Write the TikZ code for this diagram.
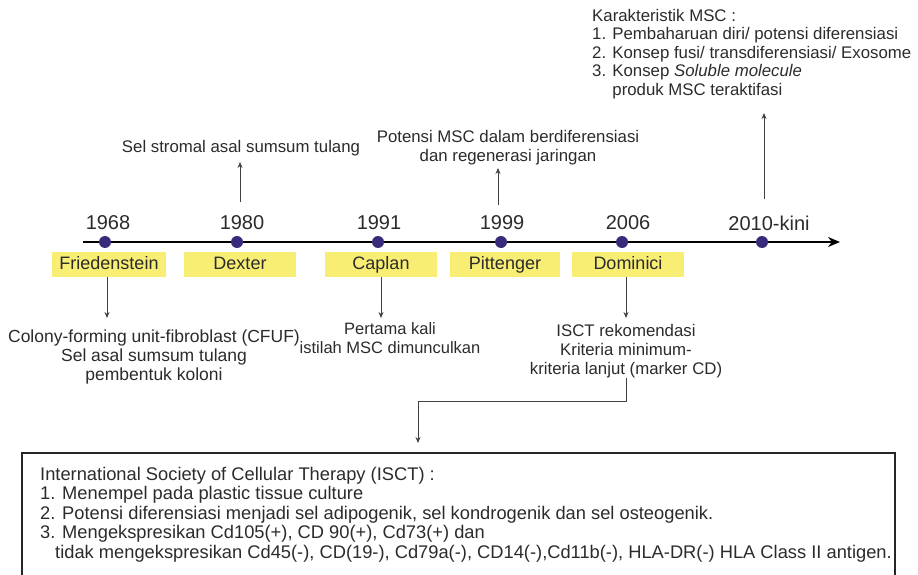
\documentclass[tikz,border=0pt]{standalone}
\usepackage{fontspec}
\setmainfont{Liberation Sans}
\usepackage{tikz}
\usetikzlibrary{arrows.meta, positioning, calc}

\definecolor{labelyellow}{HTML}{F8EE74}
\definecolor{dotblue}{HTML}{372C7C}
\definecolor{inkgray}{HTML}{2B2B2B}

\begin{document}
\begin{tikzpicture}[x=1pt, y=-1pt, every node/.style={text=inkgray}]
  % Define styles
  \tikzstyle{year} = [font=\fontsize{20}{22}\selectfont, inner sep=0pt]
  \tikzstyle{yeardot} = [circle, fill=dotblue, minimum size=12pt, inner sep=0pt]
  \tikzstyle{namebox} = [fill=labelyellow, minimum width=112pt, minimum height=25pt, inner sep=0pt, text height=13pt, text depth=3.5pt, font=\fontsize{18}{19}\selectfont]
  \tikzstyle{note} = [align=center, inner sep=0pt, font=\fontsize{16.8}{19}\selectfont]
  \tikzstyle{arrow} = [draw=black!75, line width=0.8pt, -{Stealth[length=6pt,width=5pt]}]
  \tikzstyle{timeline} = [draw=black, line width=2.2pt, -{Stealth[length=12pt,width=10pt]}]
  \tikzstyle{isctframe} = [draw=black!85, line width=1.5pt, minimum width=873pt, minimum height=150pt, inner sep=0pt, anchor=north west]
  \tikzstyle{boxtext} = [align=left, inner sep=0pt, anchor=north west, font=\fontsize{18.3}{19.5}\selectfont]

  \useasboundingbox (0,0) rectangle (918,575);
  \clip (0,0) rectangle (918,575);

  % Timeline
  \coordinate (tstart) at (83,242);
  \coordinate (tend) at (840,242);
  \path [timeline] (tstart) -- (tend);

  % Place nodes
  \node [yeardot] (d1968) at (105,242) {};
  \node [yeardot] (d1980) at (237,242) {};
  \node [yeardot] (d1991) at (378,242) {};
  \node [yeardot] (d1999) at (501,242) {};
  \node [yeardot] (d2006) at (622,242) {};
  \node [yeardot] (d2010) at (762,242) {};

  \node [year] (y1968) at (108,223) {1968};
  \node [year] (y1980) at (242,223) {1980};
  \node [year] (y1991) at (379,223) {1991};
  \node [year] (y1999) at (502,223) {1999};
  \node [year] (y2006) at (628,223) {2006};
  \node [year] (y2010) at (769,223) {2010-kini};

  \node [namebox, minimum width=114pt] (fried) at (109,264.5) {Friedenstein};
  \node [namebox] (dexter) at (240,264.5) {Dexter};
  \node [namebox] (caplan) at (381,264.5) {Caplan};
  \node [namebox, minimum width=110pt] (pitt) at (505,264.5) {Pittenger};
  \node [namebox] (domin) at (628,264.5) {Dominici};

  \node [note, anchor=north, font=\fontsize{17.5}{19}\selectfont] (cfuf) at (154,330) {Colony-forming unit-fibroblast (CFUF)\\Sel asal sumsum tulang\\pembentuk koloni};
  \node [note, anchor=north, font=\fontsize{16.5}{19}\selectfont] (msc) at (390,322) {Pertama kali\\istilah MSC dimunculkan};
  \node [note, anchor=north] (kriteria) at (626,324) {ISCT rekomendasi\\Kriteria minimum-\\kriteria lanjut (marker CD)};

  \node [note, anchor=south] (stromal) at (241,156) {Sel stromal asal sumsum tulang};
  \node [note, anchor=south] (potensi) at (508,165) {Potensi MSC dalam berdiferensiasi\\dan regenerasi jaringan};
  \node [note, align=left, anchor=north west, font=\fontsize{16.8}{18.5}\selectfont] (karakter) at (592,9) {Karakteristik MSC :\\1. Pembaharuan diri/ potensi diferensiasi\\2. Konsep fusi/ transdiferensiasi/ Exosome\\3. Konsep \textit{Soluble molecule}\\\phantom{3. }produk MSC teraktifasi};

  \node [isctframe] (isct) at (21,452) {};
  \node [boxtext] (isctlist) at ([xshift=19pt,yshift=-15pt]isct.north west) {International Society of Cellular Therapy (ISCT) :\\1. Menempel pada plastic tissue culture\\2. Potensi diferensiasi menjadi sel adipogenik, sel kondrogenik dan sel osteogenik.\\3. Mengekspresikan Cd105(+), CD 90(+), Cd73(+) dan\\\hspace*{15pt}tidak mengekspresikan Cd45(-), CD(19-), Cd79a(-), CD14(-),Cd11b(-), HLA-DR(-) HLA Class II antigen.};

  \coordinate (knee) at (418,401);

  % Draw edges
  \path [arrow, shorten >=12pt] ([xshift=-2pt]fried.south) -- ([xshift=-2pt]fried.south |- cfuf.north);
  \path [arrow, shorten >=4pt] (caplan.south) -- (caplan.south |- msc.north);
  \path [arrow, shorten >=6pt] ([xshift=-2pt]domin.south) -- ([xshift=-2pt]domin.south |- kriteria.north);
  \path [arrow, shorten <=14pt, shorten >=6pt] ([xshift=-2pt]y1980.north) -- ([xshift=-2pt]y1980.north |- stromal.south);
  \path [arrow, shorten <=11pt, shorten >=3pt] ([xshift=-4pt]y1999.north) -- ([xshift=-4pt]y1999.north |- potensi.south);
  \path [arrow, shorten <=16pt, shorten >=14pt] ([xshift=-5pt]y2010.north) -- ([xshift=-5pt]y2010.north |- karakter.south);
  \path [arrow, shorten >=9pt] (kriteria.south) |- (knee) -- (knee |- isct.north);

\end{tikzpicture}
\end{document}
